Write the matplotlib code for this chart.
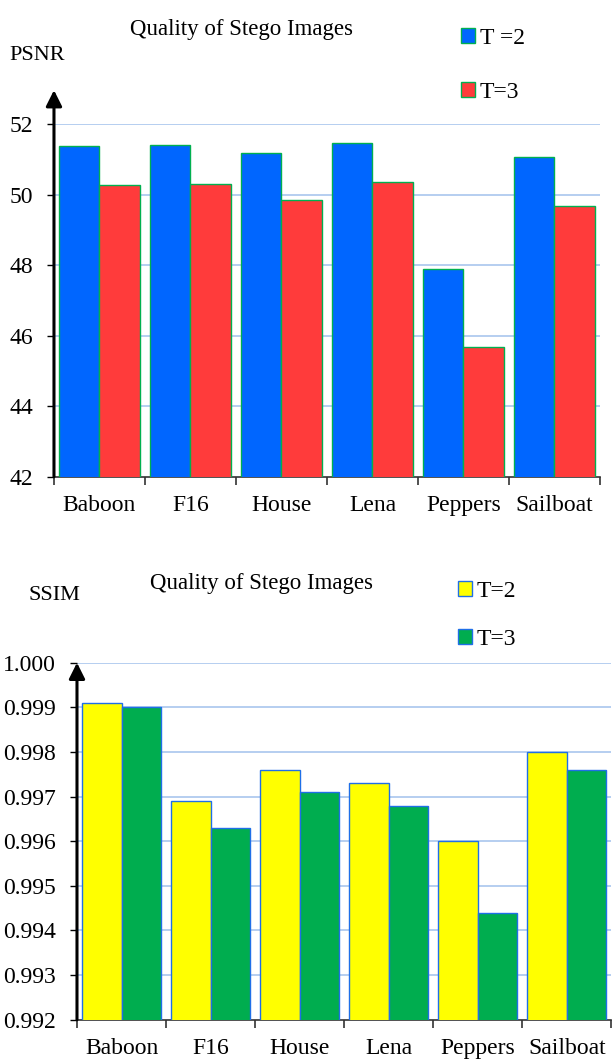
"""Quality of stego images: PSNR and SSIM bar charts."""

import numpy as np
import matplotlib
matplotlib.use("Agg")
import matplotlib.pyplot as plt
from matplotlib.patches import Patch

images = ["Baboon", "F16", "House", "Lena", "Peppers", "Sailboat"]

psnr_t2 = [51.37, 51.40, 51.18, 51.45, 47.88, 51.06]
psnr_t3 = [50.26, 50.29, 49.85, 50.35, 45.67, 49.68]

ssim_t2 = [0.9991, 0.9969, 0.9976, 0.9973, 0.9960, 0.9980]
ssim_t3 = [0.9990, 0.9963, 0.9971, 0.9968, 0.9944, 0.9976]

psnr_ticks = [42, 44, 46, 48, 50, 52]
ssim_ticks = [0.992, 0.993, 0.994, 0.995, 0.996, 0.997, 0.998, 0.999, 1.000]

plt.rcParams["font.family"] = ["Liberation Serif", "DejaVu Serif"]
GRID = "#a9c6ee"


def draw_panel(ax, s1, s2, colors, edge, ticks, fmt, arrow_top):
    x = np.arange(len(images))
    width = 0.445
    ax.bar(x - width / 2, s1, width=width, color=colors[0], edgecolor=edge, linewidth=1, zorder=3)
    ax.bar(x + width / 2, s2, width=width, color=colors[1], edgecolor=edge, linewidth=1, zorder=3)
    ax.set_xlim(-0.5, len(images) - 0.5)
    ax.set_ylim(ticks[0], ticks[-1])
    ax.set_yticks(ticks)
    ax.set_yticklabels([fmt.format(t) for t in ticks], fontsize=17)
    ax.set_xticks(x)
    ax.set_xticklabels(images, fontsize=17)
    ax.set_xticks(np.arange(len(images) + 1) - 0.5, minor=True)
    ax.tick_params(axis="x", which="major", length=0, pad=13)
    ax.tick_params(axis="x", which="minor", length=6, width=1.2, color="#333333")
    ax.tick_params(axis="y", length=5, width=1, pad=10)
    for t in ticks[1:]:
        ax.axhline(t, color=GRID, linewidth=1.2, zorder=1)
    for side in ("top", "right", "left"):
        ax.spines[side].set_visible(False)
    ax.spines["bottom"].set_color("#333333")
    ax.spines["bottom"].set_linewidth(1.2)
    ax.annotate(
        "",
        xy=(0, arrow_top),
        xytext=(0, 0),
        xycoords="axes fraction",
        textcoords="axes fraction",
        arrowprops=dict(arrowstyle="-|>", lw=2.2, color="black", mutation_scale=24, shrinkA=0, shrinkB=0),
        annotation_clip=False,
        zorder=5,
    )


def legend(handles, anchor, spacing):
    fig.legend(
        handles=handles,
        loc="upper left",
        bbox_to_anchor=anchor,
        frameon=False,
        prop={"size": 17},
        handlelength=0.6,
        handleheight=0.6,
        handletextpad=0.2,
        labelspacing=spacing,
        borderaxespad=0,
        borderpad=0,
    )


fig = plt.figure(figsize=(6.12, 10.59), dpi=100)

ax1 = fig.add_axes([0.0882, 0.5499, 0.892, 0.333])
draw_panel(ax1, psnr_t2, psnr_t3, ("#0066ff", "#ff3b3b"), "#00b050", psnr_ticks, "{:d}", 1.096)
fig.text(242 / 612, 1 - 29 / 1059, "Quality of Stego Images", ha="center", va="center", fontsize=16.5)
fig.text(37 / 612, 1 - 56 / 1059, "PSNR", ha="center", va="center", fontsize=16)
legend(
    [
        Patch(facecolor="#0066ff", edgecolor="#00b050", label="T =2"),
        Patch(facecolor="#ff3b3b", edgecolor="#00b050", label="T=3"),
    ],
    (461 / 612, 1 - 28 / 1059),
    1.4,
)

ax2 = fig.add_axes([0.1258, 0.0371, 0.873, 0.3371])
draw_panel(ax2, ssim_t2, ssim_t3, ("#ffff00", "#00ad4f"), "#1f6fe8", ssim_ticks, "{:.3f}", 1.0)
fig.text(261 / 612, 1 - 583 / 1059, "Quality of Stego Images", ha="center", va="center", fontsize=16.5)
fig.text(54 / 612, 1 - 596 / 1059, "SSIM", ha="center", va="center", fontsize=16)
legend(
    [
        Patch(facecolor="#ffff00", edgecolor="#1f6fe8", label="T=2"),
        Patch(facecolor="#00ad4f", edgecolor="#1f6fe8", label="T=3"),
    ],
    (458 / 612, 1 - 581 / 1059),
    1.15,
)

fig.savefig("out.png", dpi=100)
